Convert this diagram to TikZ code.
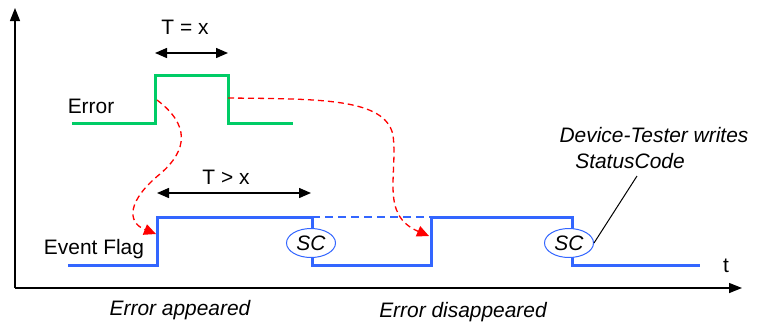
\documentclass[tikz,border=0pt]{standalone}
\usepackage{fontspec}
\setmainfont{Liberation Sans}
\usetikzlibrary{arrows.meta,shapes.geometric}
\definecolor{sigGreen}{RGB}{0,204,102}
\definecolor{sigBlue}{RGB}{51,102,255}
\definecolor{sigRed}{RGB}{255,0,0}
\begin{document}
\begin{tikzpicture}[x=1bp,y=-1bp,
  every node/.style={font=\fontsize{21}{25}\selectfont, inner sep=0pt},
  lbl/.style={anchor=base},
  itlbl/.style={anchor=base, font=\fontsize{21}{25}\selectfont\itshape},
  axis/.style={line width=1.4bp, -{Triangle[length=13bp,width=10bp]}},
  span/.style={line width=1.4bp, {Triangle[length=12bp,width=10bp]}-{Triangle[length=12bp,width=10bp]}},
  errsig/.style={sigGreen, line width=3bp},
  flagsig/.style={sigBlue, line width=3bp},
  flagdash/.style={sigBlue, line width=2bp, dash pattern=on 8bp off 5bp},
  cause/.style={sigRed, line width=1.3bp, dash pattern=on 6bp off 4bp, -{Triangle[length=12bp,width=11bp]}},
  scmark/.style={ellipse, draw=sigBlue, line width=1bp, fill=white, minimum width=49bp, minimum height=29bp, font=\fontsize{21}{25}\selectfont\itshape},
]
\useasboundingbox (0,0) rectangle (757,330);

% axes
\coordinate (origin) at (15,288);
\coordinate (ytop) at (15,8);
\coordinate (xend) at (742,288);
\draw[axis] (origin) -- (ytop);
\draw[axis] (origin) -- (xend);

% Error signal
\draw[errsig] (72,123) -- (155,123) -- (155,75) -- (228,75) -- (228,123) -- (293,123);

% Event flag signal
\draw[flagdash] (312,217) -- (431,217);
\draw[flagsig] (68,265) -- (157,265) -- (157,217) -- (312,217) -- (312,265) -- (431,265) -- (431,217) -- (572,217) -- (572,265) -- (700,265);

% SC marks
\node[scmark] (sc1) at (311,243) {SC};
\node[scmark] (sc2) at (569,243) {SC};

% span arrows
\coordinate (txa) at (155,53);
\coordinate (txb) at (228,53);
\draw[span] (txa) -- (txb);
\coordinate (tgxa) at (157,193);
\coordinate (tgxb) at (311,193);
\draw[span] (tgxa) -- (tgxb);

% labels
\node[lbl] (tx) at (185,34) {T = x};
\node[lbl] (tgx) at (226,184) {T > x};
\node[lbl] (errlbl) at (91,113) {Error};
\node[lbl] (flaglbl) at (94,254) {Event Flag};
\node[lbl] (tlbl) at (726,272) {t};
\node[itlbl] (appeared) at (180,315) {Error appeared};
\node[itlbl] (disappeared) at (463,317) {Error disappeared};
\node[itlbl] (dtw) at (654,142) {Device-Tester writes};
\node[itlbl] (stc) at (630,168) {StatusCode};

% leader
\coordinate (lead) at (637,176);
\draw[line width=1bp] (sc2.east) -- (lead);

% cause arrows
\coordinate (c1s) at (157,100);
\coordinate (c1e) at (156,234);
\draw[cause] (c1s) .. controls (190,125) and (188,150) .. (160,174) .. controls (128,200) and (126,222) .. (c1e);
\coordinate (c2s) at (228,98);
\coordinate (c2e) at (429,236);
\draw[cause] (c2s) .. controls (320,99) and (385,98) .. (393,135) .. controls (398,175) and (380,215) .. (c2e);
\end{tikzpicture}
\end{document}
